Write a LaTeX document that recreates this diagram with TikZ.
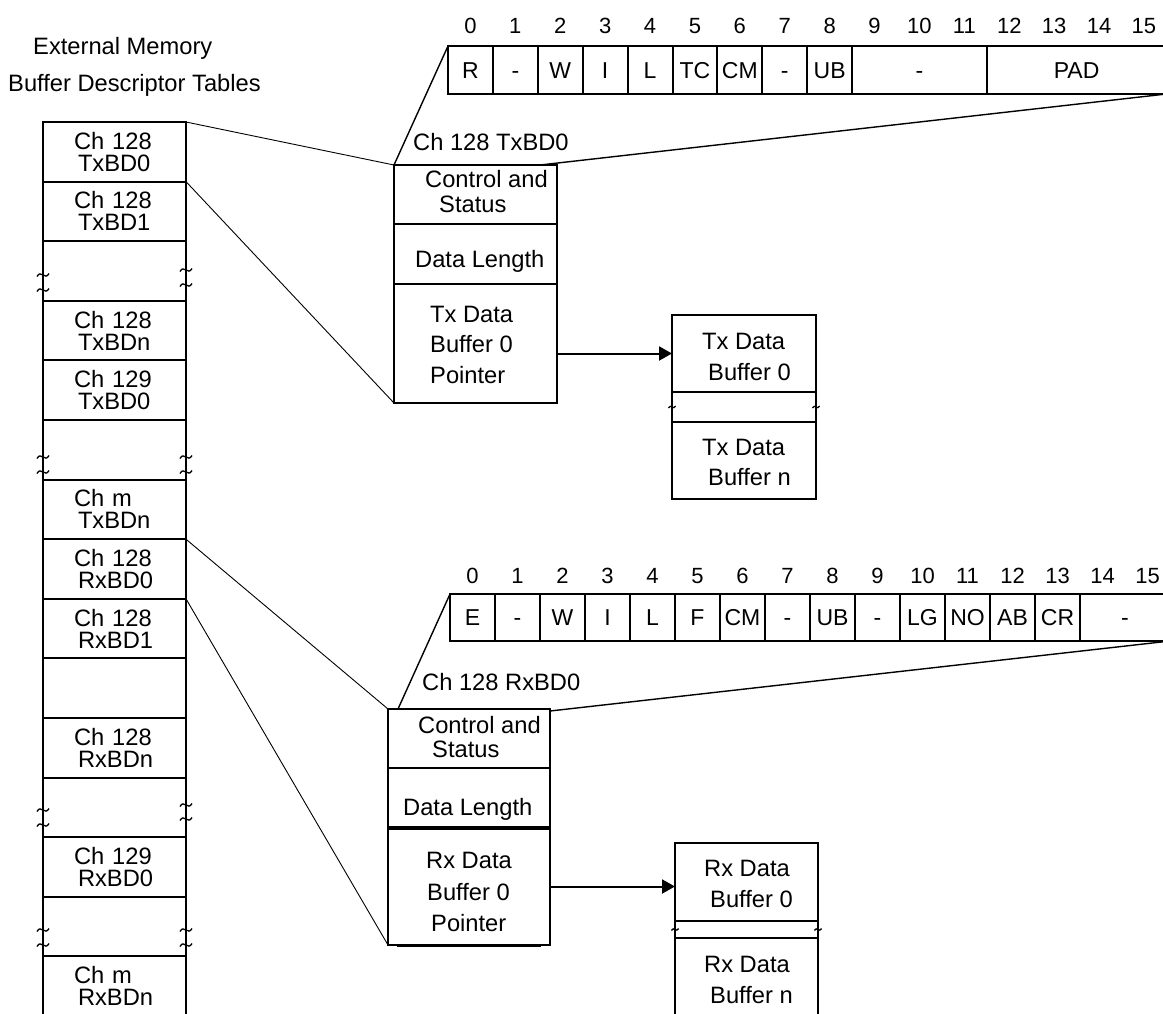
\documentclass[tikz,border=0pt]{standalone}
\usepackage{fontspec}
\setmainfont{Liberation Sans}
\usetikzlibrary{arrows.meta}

\tikzset{
  slot/.style={draw, line width=2pt, outer sep=0pt, inner xsep=31pt, inner ysep=0pt,
    minimum height=59.6pt, text width=81pt, align=left, anchor=north west,
    font=\fontsize{23.7}{22}\selectfont},
  field/.style={draw, line width=2pt, outer sep=0pt, inner sep=0pt,
    text height=16pt, text depth=0pt, font=\fontsize{23}{24}\selectfont},
  bitno/.style={inner sep=0pt, anchor=base, font=\fontsize{22}{24}\selectfont},
  bdbox/.style={draw, line width=2pt, outer sep=0pt, inner sep=0pt, anchor=north west},
  txt/.style={inner sep=0pt, anchor=base west, font=\fontsize{23.7}{28}\selectfont},
  link/.style={line width=0.9pt},
  fan/.style={line width=1.4pt},
  ptr/.style={line width=2pt, -{Triangle[length=13pt,width=14pt]}},
  cut/.pic={\draw[line width=1.3pt] (-6,1.5) .. controls (-2,-6) and (2,6) .. (6,-1.5);}
}

\begin{document}
\begin{tikzpicture}[x=1pt, y=-1pt]
    \useasboundingbox (0,0) rectangle (1163,1013);
    \clip (0,0) rectangle (1163,1013);

    % title
    \node[txt] (title1) at (33,54) {External Memory};
    \node[txt] (title2) at (8,91) {Buffer Descriptor Tables};

    % descriptor table in external memory
    \foreach \a/\b [count=\i] in {Ch 128/TxBD0, Ch 128/TxBD1, /, Ch 128/TxBDn, Ch 129/TxBD0, /, Ch m/TxBDn,
        Ch 128/RxBD0, Ch 128/RxBD1, /, Ch 128/RxBDn, /, Ch 129/RxBD0, /, Ch m/RxBDn}
        \node[slot] (r\i) at (43,{122+59.6*(\i-1)}) {\a\\\hspace*{4pt}\b};

    \foreach \x/\y in {43/275, 43/290, 186/270, 186/285, 43/457, 43/472, 186/457, 186/472,
        43/810, 43/825, 186/805, 186/819, 43/930, 43/945, 186/930, 186/945}
        \pic at (\x,\y) {cut};

    % Tx status word
    \foreach \b in {0,...,15}
        \node[bitno] (txn\b) at ({448+44.9*(\b+0.5)},33) {\b};
    \foreach \s/\e/\t in {0/0/R, 1/1/-, 2/2/W, 3/3/I, 4/4/L, 5/5/TC, 6/6/CM, 7/7/-, 8/8/UB, 9/11/-, 12/15/PAD} {
        \pgfmathsetmacro\w{44.9*(\e-\s+1)}
        \node[field, minimum width=\w pt, minimum height=48pt] (txf\s) at ({448+44.9*(\s+\e+1)/2},70) {\t};
    }

    % Tx buffer descriptor
    \node[txt] (txname) at (413,150) {Ch 128 TxBD0};
    \node[bdbox, minimum width=163pt, minimum height=59pt] (txcs) at (394,165) {};
    \node[bdbox, minimum width=163pt, minimum height=60pt] (txlen) at (txcs.south west) {};
    \node[bdbox, minimum width=163pt, minimum height=119pt] (txptr) at (txlen.south west) {};
    \node[txt] (txcs1) at (425,187) {Control and};
    \node[txt] (txcs2) at (439,212) {Status};
    \node[txt] (txlen1) at (415,267) {Data Length};
    \node[txt] (txptr1) at (430,322) {Tx Data};
    \node[txt] (txptr2) at (430,352) {Buffer 0};
    \node[txt] (txptr3) at (430,383) {Pointer};

    % Tx data buffers
    \node[bdbox, minimum width=144pt, minimum height=77pt] (txb0) at (672,315) {};
    \node[bdbox, minimum width=144pt, minimum height=30pt] (txgap) at (txb0.south west) {};
    \node[bdbox, minimum width=144pt, minimum height=77pt] (txbn) at (txgap.south west) {};
    \node[txt] (txb0a) at (702,349) {Tx Data};
    \node[txt] (txb0b) at (708,380) {Buffer 0};
    \node[txt] (txbna) at (702,455) {Tx Data};
    \node[txt] (txbnb) at (708,485) {Buffer n};
    \pic[scale=0.6] at (txgap.west) {cut};
    \pic[scale=0.6] at (txgap.east) {cut};

    \draw[link] (r1.north east) -- (txcs.north west);
    \draw[link] (r2.north east) -- (txptr.south west);
    \draw[fan] (txf0.north west) -- (txcs.north west);
    \draw[fan] (txf12.south east) -- ([xshift=-17pt]txcs.north east);
    \draw[ptr] (txptr.east |- txb0.west) -- (txb0.west);

    % Rx status word
    \foreach \b in {0,...,15}
        \node[bitno] (rxn\b) at ({450+45*(\b+0.5)},583) {\b};
    \foreach \s/\e/\t in {0/0/E, 1/1/-, 2/2/W, 3/3/I, 4/4/L, 5/5/F, 6/6/CM, 7/7/-, 8/8/UB, 9/9/-,
        10/10/LG, 11/11/NO, 12/12/AB, 13/13/CR, 14/15/-} {
        \pgfmathsetmacro\w{45*(\e-\s+1)}
        \node[field, minimum width=\w pt, minimum height=47pt] (rxf\s) at ({450+45*(\s+\e+1)/2},617.5) {\t};
    }

    % Rx buffer descriptor
    \node[txt] (rxname) at (422,690) {Ch 128 RxBD0};
    \node[bdbox, minimum width=162pt, minimum height=59pt] (rxcs) at (388,709) {};
    \node[bdbox, minimum width=162pt, minimum height=60pt] (rxlen) at (rxcs.south west) {};
    \node[bdbox, minimum width=162pt, minimum height=117pt] (rxptr) at (rxlen.south west) {};
    \draw[line width=4pt] (rxlen.south west) -- (rxlen.south east);
    \draw[line width=1.5pt] ([shift={(9pt,-1.5pt)}]rxptr.south west) -- ([shift={(-9pt,-1.5pt)}]rxptr.south east);
    \node[txt] (rxcs1) at (418,733) {Control and};
    \node[txt] (rxcs2) at (432,757) {Status};
    \node[txt] (rxlen1) at (403,815) {Data Length};
    \node[txt] (rxptr1) at (426,868) {Rx Data};
    \node[txt] (rxptr2) at (427,900) {Buffer 0};
    \node[txt] (rxptr3) at (431,931) {Pointer};

    % Rx data buffers
    \node[bdbox, minimum width=143pt, minimum height=78pt] (rxb0) at (675,843) {};
    \node[bdbox, minimum width=143pt, minimum height=17pt] (rxgap) at (rxb0.south west) {};
    \node[bdbox, minimum width=143pt, minimum height=78pt] (rxbn) at (rxgap.south west) {};
    \node[txt] (rxb0a) at (704,876) {Rx Data};
    \node[txt] (rxb0b) at (710,907) {Buffer 0};
    \node[txt] (rxbna) at (704,972) {Rx Data};
    \node[txt] (rxbnb) at (710,1003) {Buffer n};
    \pic[scale=0.6] at (rxgap.west) {cut};
    \pic[scale=0.6] at (rxgap.east) {cut};

    \draw[link] (r8.north east) -- (rxcs.north west);
    \draw[link] (r9.north east) -- (rxptr.south west);
    \draw[fan] (rxf0.north west) -- ([xshift=10pt]rxcs.north west);
    \draw[fan] (rxf14.south east) -- ([yshift=-2pt]rxcs.north east);
    \draw[ptr] (rxptr.east) -- (rxptr.east -| rxb0.west);
\end{tikzpicture}
\end{document}
